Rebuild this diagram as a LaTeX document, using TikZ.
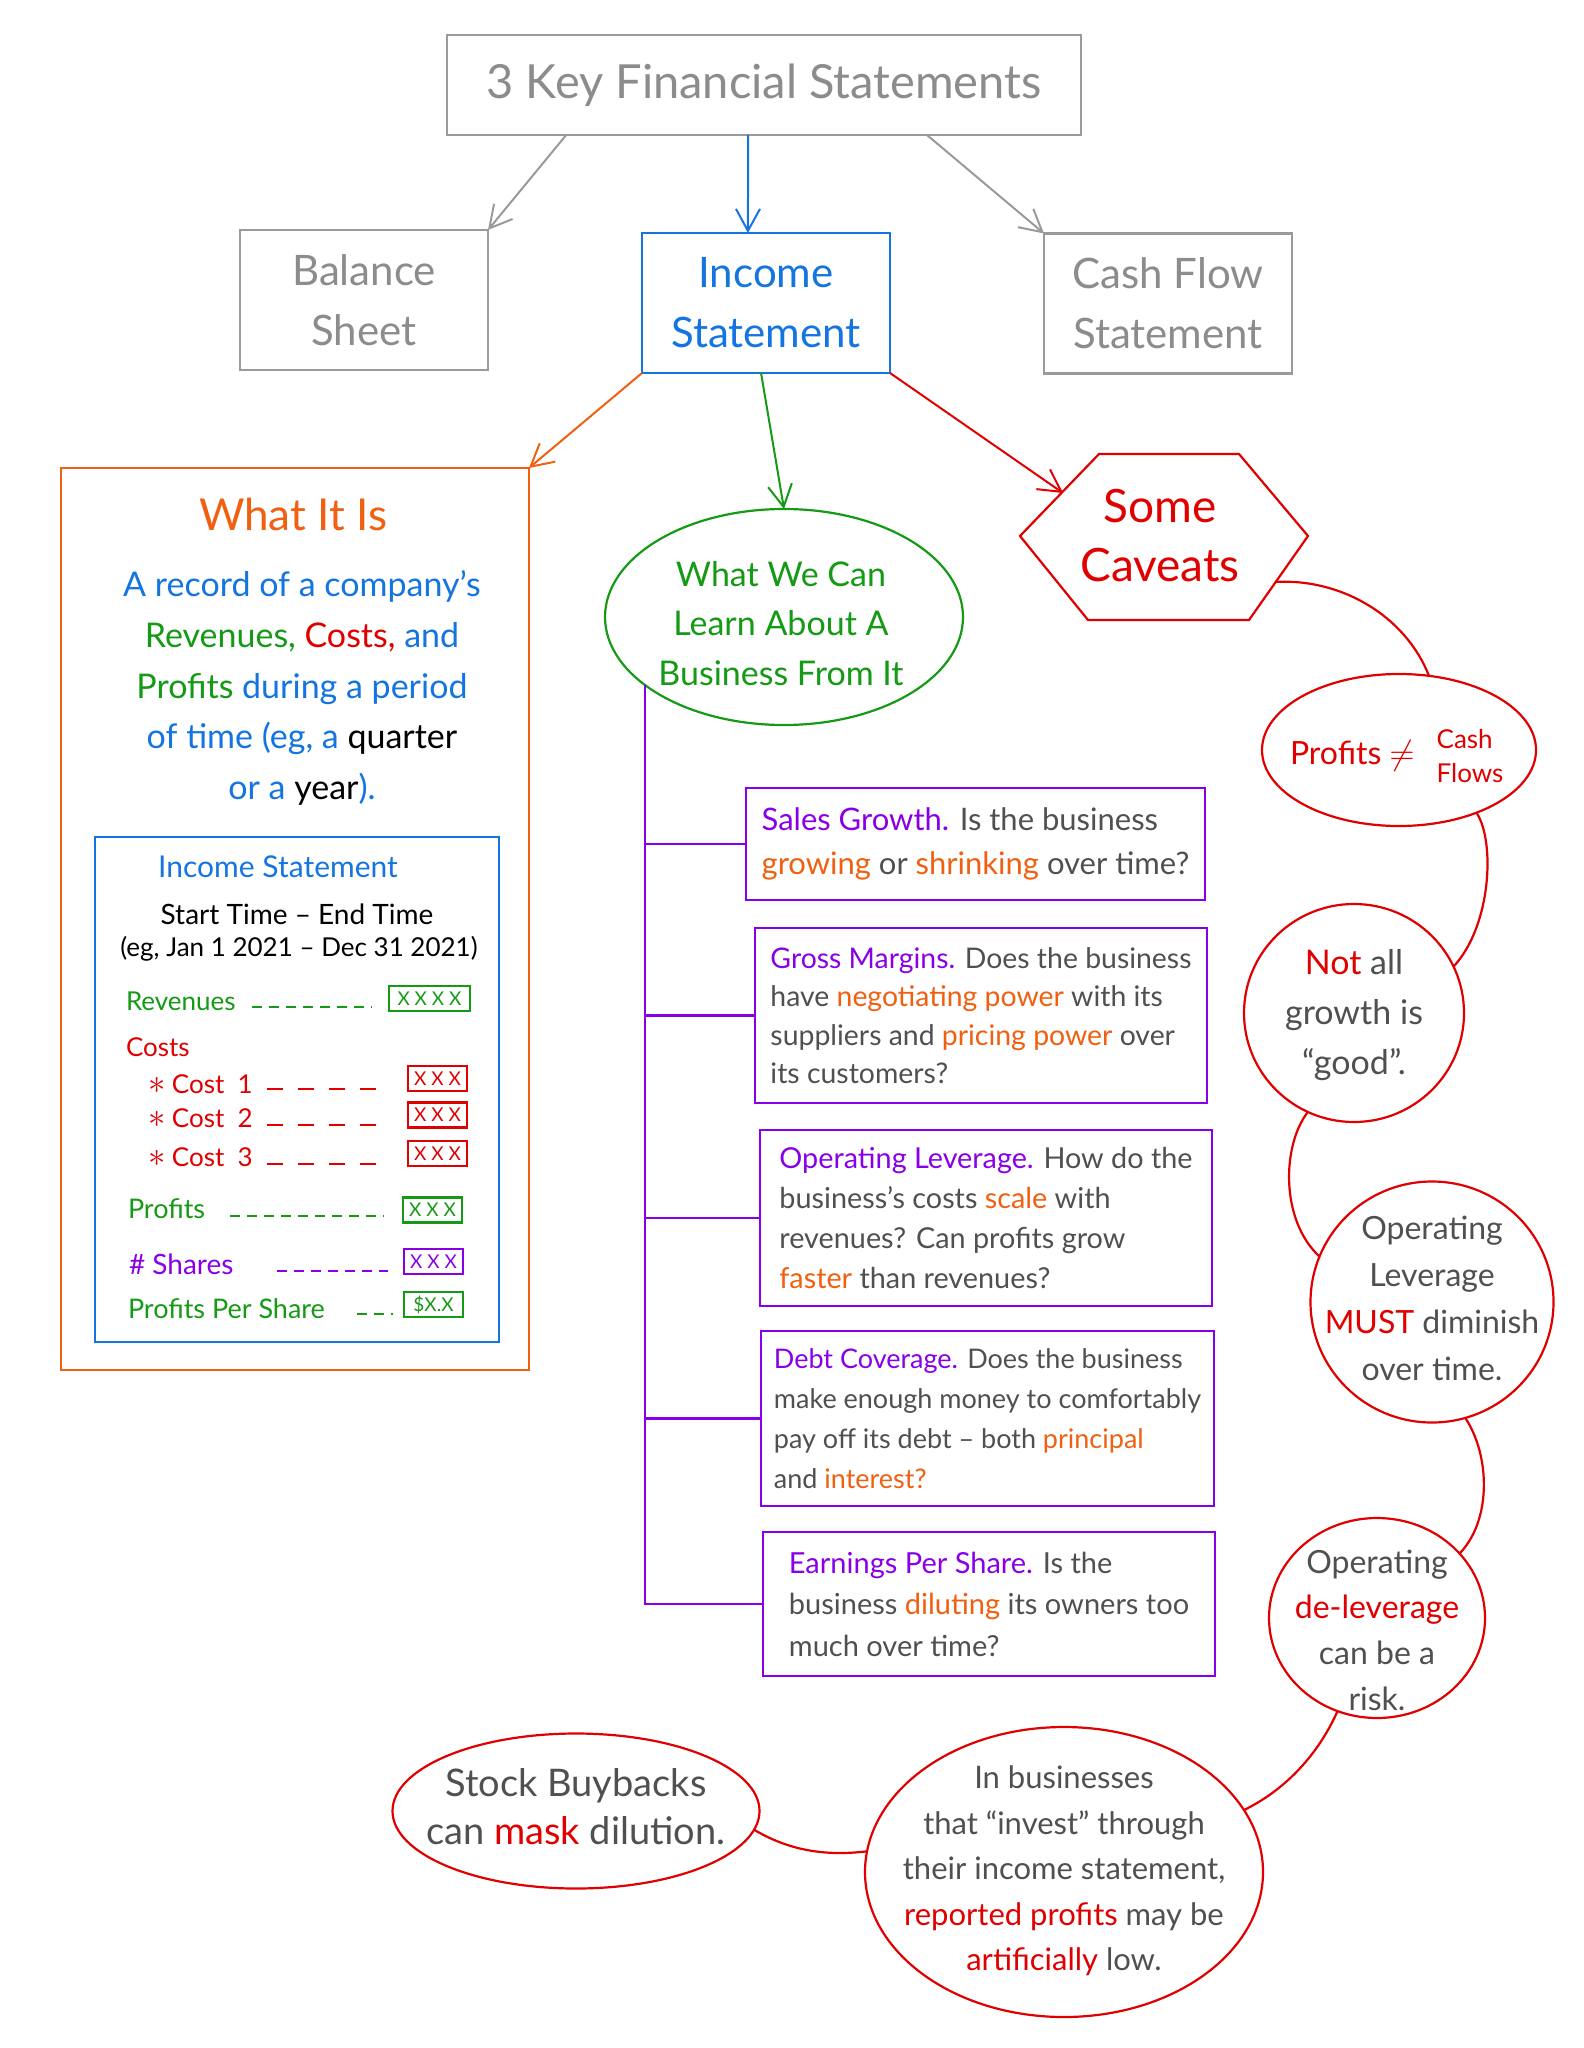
\documentclass[tikz,border=0pt]{standalone}
\usepackage{fontspec}
\setmainfont{Lato}
\usetikzlibrary{arrows.meta,shapes.geometric,calc}
\definecolor{gbox}{HTML}{9A9A9A}
\definecolor{gtxt}{HTML}{8C8C8C}
\definecolor{blu}{HTML}{1475E1}
\definecolor{grn}{HTML}{159A15}
\definecolor{red1}{HTML}{E00000}
\definecolor{org}{HTML}{F06010}
\definecolor{pur}{HTML}{8A00E6}
\definecolor{dk}{HTML}{505050}
\newcommand{\fsz}[2]{\fontsize{#1}{#2}\selectfont}
\newcommand{\bigast}{{\fsz{19}{15}$\ast$}}
\begin{document}
\begin{tikzpicture}[x=0.5pt,y=-0.5pt,
  every node/.style={inner sep=0pt,outer sep=0pt},
  bx/.style={draw,rectangle,line width=1.1pt},
  arr/.style={line width=1pt,-{Straight Barb[length=11pt,width=12pt,line width=1pt]}},
  link/.style={red1,line width=1.1pt},
  ell/.style={draw,ellipse,red1,line width=1.1pt},
  pbox/.style={bx,pur,text=dk,align=left,font=\fsz{14}{20}},
  vb/.style={bx,minimum width=29.5pt,minimum height=12.5pt,font=\fsz{9.5}{10}},
  dsh/.style={line width=1.2pt,dash pattern=on 5pt off 3.5pt},
  ldsh/.style={line width=1.2pt,dash pattern=on 8pt off 7.5pt},
  trunk/.style={pur,line width=1.1pt}
]
\fill[white] (0,0) rectangle (1583,2048);
\useasboundingbox (0,0) rectangle (1583,2048);

% top level
\node[bx,gbox,text=gtxt,minimum width=317pt,minimum height=50pt,font=\fsz{23.5}{28}] (top) at (764,85) {3 Key Financial Statements};
\node[bx,gbox,text=gtxt,minimum width=124pt,minimum height=70pt,align=center,font=\fsz{21}{30}] (bs) at (364,300) {Balance\\Sheet};
\node[bx,blu,minimum width=124pt,minimum height=70pt,align=center,font=\fsz{21}{30}] (is) at (766,303) {Income\\Statement};
\node[bx,gbox,text=gtxt,minimum width=124pt,minimum height=70pt,align=center,font=\fsz{21}{30}] (cf) at (1168,303.5) {Cash Flow\\Statement};

\draw[arr,gbox] ($(top.south west)!0.188!(top.south east)$) -- (bs.north east);
\draw[arr,blu] ($(top.south west)!0.475!(top.south east)$) -- ($(is.north west)!0.427!(is.north east)$);
\draw[arr,gbox] ($(top.south west)!0.757!(top.south east)$) -- (cf.north west);

% What it is
\node[bx,org,minimum width=234pt,minimum height=451pt] (wb) at (295,919) {};
\draw[arr,org] (is.south west) -- (wb.north east);
\node[org,font=\fsz{22}{26},anchor=base] (wbt) at (293,530) {What It Is};
\node[blu,align=center,font=\fsz{17}{25.4}] (wbd) at (302,688) {A record of a company's\\ \textcolor{grn}{Revenues,} \textcolor{red1}{Costs,} and\\ \textcolor{grn}{Profits} during a period\\ of time (eg, a \textcolor{black}{quarter}\\ or a \textcolor{black}{year}).};

\node[bx,blu,minimum width=202pt,minimum height=252.5pt] (ib) at (297,1089.5) {};
\node[blu,font=\fsz{15}{18},anchor=base] (ibt) at (278,877) {Income Statement};
\node[black,font=\fsz{14}{16},anchor=base] (ibs) at (297,924) {Start Time -- End Time};
\node[black,font=\fsz{13}{16},anchor=base] (ibe) at (299,956) {(eg, Jan 1 2021 -- Dec 31 2021)};

\node[grn,font=\fsz{13}{15},anchor=base west] (rev) at (126,1010) {Revenues};
\draw[grn,dsh] (252,1007) -- (372,1007);
\node[vb,grn,minimum width=40.5pt] (revb) at (429.5,998.5) {X X X X};

\node[red1,font=\fsz{13}{15},anchor=base west] (cst) at (126,1056) {Costs};
\node[red1,font=\fsz{13}{15},anchor=base west] (c1) at (148,1093) {\bigast\ Cost\ \ 1};
\draw[red1,ldsh] (267,1089) -- (380,1089);
\node[vb,red1] (c1b) at (437.5,1078.5) {X X X};
\node[red1,font=\fsz{13}{15},anchor=base west] (c2) at (148,1127) {\bigast\ Cost\ \ 2};
\draw[red1,ldsh] (267,1125) -- (380,1125);
\node[vb,red1] (c2b) at (437.5,1115) {X X X};
\node[red1,font=\fsz{13}{15},anchor=base west] (c3) at (148,1166) {\bigast\ Cost\ \ 3};
\draw[red1,ldsh] (267,1164) -- (380,1164);
\node[vb,red1] (c3b) at (437.5,1153.5) {X X X};

\node[grn,font=\fsz{13.5}{15},anchor=base west] (pr) at (128,1218) {Profits};
\draw[grn,dsh] (230,1216) -- (384,1216);
\node[vb,grn] (prb) at (432.5,1210) {X X X};
\node[pur,font=\fsz{14}{15},anchor=base west] (sh) at (129,1274) {\# Shares};
\draw[pur,dsh] (277,1271) -- (388,1271);
\node[vb,pur] (shb) at (433.5,1261.5) {X X X};
\node[grn,font=\fsz{13.5}{15},anchor=base west] (pps) at (128,1318) {Profits Per Share};
\draw[grn,dsh] (357,1314) -- (393,1314);
\node[vb,grn] (ppsb) at (433.5,1304.5) {\$X.X};

% What we can learn
\node[draw,ellipse,grn,line width=1.1pt,minimum width=179pt,minimum height=108pt] (wl) at (784,617) {};
\node[grn,align=center,font=\fsz{17}{24.75}] (wlt) at (781,623.5) {What We Can\\Learn About A\\Business From It};
\draw[arr,grn] ($(is.south west)!0.48!(is.south east)$) -- (wl.north);

\node[pbox,minimum width=229.5pt,minimum height=56pt,font=\fsz{15.5}{22}] (sg) at (975.5,844) {\textcolor{pur}{Sales Growth.} Is the business\\ \textcolor{org}{growing} or \textcolor{org}{shrinking} over time?};
\node[pbox,minimum width=226pt,minimum height=87.5pt,font=\fsz{14.2}{19.2}] (gm) at (981,1015.5) {\textcolor{pur}{Gross Margins.} Does the business\\ have \textcolor{org}{negotiating power} with its\\ suppliers and \textcolor{org}{pricing power} over\\ its customers?};
\node[pbox,minimum width=226pt,minimum height=88pt,font=\fsz{14.4}{20}] (ol) at (986,1218) {\textcolor{pur}{Operating Leverage.} How do the\\ business's costs \textcolor{org}{scale} with\\ revenues? Can profits grow\\ \textcolor{org}{faster} than revenues?};
\node[pbox,minimum width=226.5pt,minimum height=87.5pt,font=\fsz{13.5}{20}] (dc) at (987.5,1418.5) {\textcolor{pur}{Debt Coverage.} Does the business\\ make enough money to comfortably\\ pay off its debt -- both \textcolor{org}{principal}\\ and \textcolor{org}{interest?}};
\node[pbox,minimum width=226pt,minimum height=72pt,font=\fsz{14.5}{20.75}] (eps) at (989,1604) {\textcolor{pur}{Earnings Per Share.} Is the\\ business \textcolor{org}{diluting} its owners too\\ much over time?};

\coordinate (tk) at (wl.206);
\draw[trunk] (tk) |- (eps.west);
\draw[trunk] (tk |- sg.west) -- (sg.west);
\draw[trunk] (tk |- gm.west) -- (gm.west);
\draw[trunk] (tk |- ol.west) -- (ol.west);
\draw[trunk] (tk |- dc.west) -- (dc.west);

% Caveats hexagon
\draw[red1,line width=1.1pt] (1099,454) -- (1239,454) -- (1308,536) -- (1249,620) -- (1088,620) -- (1020,536) -- cycle;
\node[red1,align=center,font=\fsz{23}{29.5}] (cav) at (1160,535.5) {Some\\Caveats};
\coordinate (hexin) at (1063,493);
\coordinate (hexout) at (1275,582);
\draw[arr,red1] (is.south east) -- (hexin);

% caveat bubbles
\node[ell,minimum width=137pt,minimum height=76pt] (pcf) at (1399,750) {};
\node[red1,font=\fsz{16}{18},anchor=base west] (pcft) at (1290,764) {Profits $\neq$};
\node[red1,align=left,font=\fsz{13}{17}] (pcfc) at (1470,756) {Cash\\Flows};

\node[ell,minimum width=110pt,minimum height=109pt] (nag) at (1354,1013) {};
\node[dk,align=center,font=\fsz{17}{25}] (nagt) at (1354,1015) {\textcolor{red1}{Not} all\\growth is\\“good”.};

\node[ell,minimum width=121.5pt,minimum height=120.5pt] (olc) at (1432,1302) {};
\node[dk,align=center,font=\fsz{16}{23.5}] (olct) at (1432,1298.5) {Operating\\Leverage\\\textcolor{red1}{MUST} diminish\\over time.};

\node[ell,minimum width=108pt,minimum height=100pt] (dlc) at (1377,1618) {};
\node[dk,align=center,font=\fsz{16}{22.8}] (dlct) at (1377,1630) {Operating\\\textcolor{red1}{de-leverage}\\can be a\\risk.};

\node[ell,minimum width=199pt,minimum height=145pt] (big) at (1064,1872) {};
\node[dk,align=center,font=\fsz{15.5}{22.75}] (bigt) at (1064,1871) {In businesses\\that “invest” through\\their income statement,\\\textcolor{red1}{reported profits} may be\\\textcolor{red1}{artificially} low.};

\node[ell,minimum width=183.5pt,minimum height=77.5pt] (sb) at (576,1811) {};
\node[dk,align=center,font=\fsz{19}{24}] (sbt) at (576,1807) {Stock Buybacks\\can \textcolor{red1}{mask} dilution.};

\draw[link] (hexout) .. controls (1340,578) and (1405,615) .. (pcf.68);
\draw[link] (pcf.-39) .. controls (1495,840) and (1492,925) .. (nag.25);
\draw[link] (nag.-115) .. controls (1282,1145) and (1280,1220) .. (olc.158);
\draw[link] (olc.-74) .. controls (1490,1455) and (1492,1520) .. (dlc.38);
\draw[link] (dlc.-113) .. controls (1318,1755) and (1285,1790) .. (big.19);
\draw[link] (big.174) .. controls (820,1857) and (785,1848) .. (sb.-6);
\end{tikzpicture}
\end{document}
